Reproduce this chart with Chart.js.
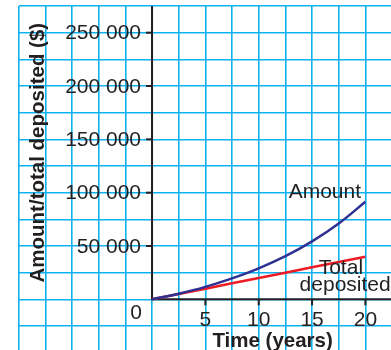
<!DOCTYPE html>
<html>
<head>
<meta charset="utf-8">
<script src="https://cdn.jsdelivr.net/npm/chart.js@4"></script>
<style>
  html, body { margin: 0; padding: 0; background: #fff; }
  #wrap { width: 391px; height: 350px; }
</style>
</head>
<body>
<div id="wrap"><canvas id="chart"></canvas></div>
<script>
// values
const years = [0, 2.5, 5, 7.5, 10, 12.5, 15, 17.5, 20];
const amount = [0, 5300, 11700, 19600, 29000, 40400, 54300, 71100, 91500];
const deposited = [0, 5000, 10000, 15000, 20000, 25000, 30000, 35000, 40000];
const xTickLabels = [5, 10, 15, 20];
const yTickValues = [50000, 100000, 150000, 200000, 250000];

const ink = '#231f20';
const font = '"Liberation Sans", Arial, sans-serif';

// format 250000 -> "250 000"
function fmt(v) {
    return String(v).replace(/\B(?=(\d{3})+(?!\d))/g, ' ');
}

// axes, tick marks and labels sit at the origin, not the chart edges
const axesPlugin = {
    id: 'axes',
    beforeDatasetsDraw(chart) {
        const { ctx, scales: { x, y }, chartArea } = chart;
        const x0 = x.getPixelForValue(0);
        const y0 = y.getPixelForValue(0);
        ctx.save();
        ctx.strokeStyle = ink;
        ctx.lineWidth = 2;
        ctx.beginPath();
        ctx.moveTo(x0, chartArea.top);
        ctx.lineTo(x0, y0);
        ctx.lineTo(chartArea.right, y0);
        ctx.stroke();
        // tick marks
        yTickValues.forEach(v => {
            const py = y.getPixelForValue(v);
            ctx.beginPath();
            ctx.moveTo(x0 - 6, py);
            ctx.lineTo(x0, py);
            ctx.stroke();
        });
        xTickLabels.forEach(v => {
            const px = x.getPixelForValue(v);
            ctx.beginPath();
            ctx.moveTo(px, y0);
            ctx.lineTo(px, y0 + 6);
            ctx.stroke();
        });
        ctx.restore();
    },
    afterDraw(chart) {
        const { ctx, scales: { x, y } } = chart;
        const x0 = x.getPixelForValue(0);
        const y0 = y.getPixelForValue(0);
        ctx.save();
        ctx.fillStyle = ink;
        ctx.font = '21px ' + font;

        ctx.textAlign = 'right';
        ctx.textBaseline = 'middle';
        yTickValues.forEach(v => {
            ctx.fillText(fmt(v), x0 - 11, y.getPixelForValue(v) + 1);
        });
        ctx.fillText('0', x0 - 10, y0 + 14);

        ctx.textAlign = 'center';
        xTickLabels.forEach(v => {
            ctx.fillText(String(v), x.getPixelForValue(v), y0 + 21);
        });

        // series labels
        ctx.textBaseline = 'alphabetic';
        ctx.fillText('Amount', x.getPixelForValue(16.2), y.getPixelForValue(95200));
        ctx.fillText('Total', x.getPixelForValue(17.7), y.getPixelForValue(23500));
        ctx.fillText('deposited', x.getPixelForValue(18.1), y.getPixelForValue(7800));

        // axis titles
        ctx.font = 'bold 20.5px ' + font;
        ctx.fillText('Time (years)', x.getPixelForValue(11.3), y0 + 48);
        ctx.translate(x.getPixelForValue(-10.7), y.getPixelForValue(137500));
        ctx.rotate(-Math.PI / 2);
        ctx.textBaseline = 'middle';
        ctx.fillText('Amount/total deposited ($)', 0, 0);
        ctx.restore();
    }
};

const gridColor = 'rgba(0, 174, 239, 0.95)';

new Chart(document.getElementById('chart'), {
    type: 'line',
    data: {
        datasets: [
            {
                label: 'Amount',
                data: years.map((t, i) => ({ x: t, y: amount[i] })),
                borderColor: '#2e3192',
                borderWidth: 2.5,
                pointRadius: 0,
                tension: 0.4
            },
            {
                label: 'Total deposited',
                data: years.map((t, i) => ({ x: t, y: deposited[i] })),
                borderColor: '#ed1c24',
                borderWidth: 2.5,
                pointRadius: 0
            }
        ]
    },
    options: {
        responsive: true,
        maintainAspectRatio: false,
        animation: false,
        layout: { padding: { left: 18.7, top: 6, right: 0, bottom: 0 } },
        plugins: {
            legend: { display: false },
            tooltip: { enabled: false }
        },
        scales: {
            x: {
                type: 'linear',
                min: -12.5,
                max: 22.4,
                afterBuildTicks(scale) {
                    const ticks = [];
                    for (let v = -12.5; v <= 22.5; v += 2.5) ticks.push({ value: v });
                    scale.ticks = ticks;
                },
                ticks: { display: false },
                border: { display: false },
                grid: { color: gridColor, lineWidth: 1.6, drawTicks: false }
            },
            y: {
                min: -47500,
                max: 275000,
                afterBuildTicks(scale) {
                    const ticks = [];
                    for (let v = -25000; v <= 275000; v += 25000) ticks.push({ value: v });
                    scale.ticks = ticks;
                },
                ticks: { display: false },
                border: { display: false },
                grid: { color: gridColor, lineWidth: 1.6, drawTicks: false }
            }
        }
    },
    plugins: [axesPlugin]
});
</script>
</body>
</html>
